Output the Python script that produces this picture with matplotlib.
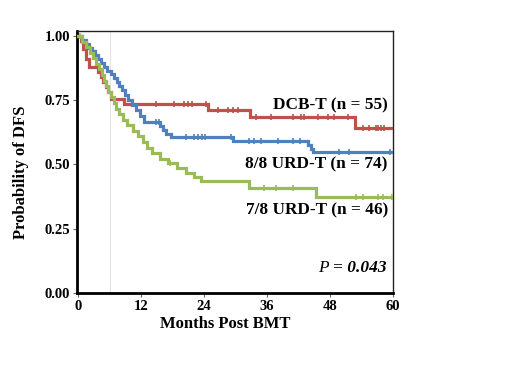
import numpy as np
import matplotlib
matplotlib.use("Agg")
import matplotlib.pyplot as plt

# ---- data ----
red_t = [0, 0.5, 1.0, 1.5, 2.0, 3.8, 4.3, 4.8, 5.3, 5.8, 6.3, 8.8, 24.7, 32.8, 52.8]
red_s = [1.0, 0.98, 0.95, 0.91, 0.88, 0.86, 0.84, 0.82, 0.80, 0.78, 0.755, 0.735, 0.712, 0.683, 0.643]
red_cens = [14.9, 18.3, 20.2, 21.0, 21.7, 24.4, 26.7, 28.5, 29.5, 30.5, 33.9, 36.8,
            41.0, 42.5, 43.0, 45.7, 47.6, 48.8, 51.4, 54.3, 55.5, 56.8, 57.2, 57.7, 58.3]

blue_t = [0, 0.8, 1.5, 2.0, 2.7, 3.2, 3.8, 4.4, 5.0, 5.5, 6.2, 6.8, 7.4, 7.8, 8.4, 9.0,
          9.6, 10.3, 11.0, 11.8, 12.6, 15.6, 16.2, 16.8, 17.8, 29.5, 43.8, 44.3, 44.8]
blue_s = [1.0, 0.985, 0.97, 0.955, 0.94, 0.925, 0.91, 0.895, 0.88, 0.865, 0.85, 0.835,
          0.82, 0.805, 0.79, 0.77, 0.75, 0.73, 0.71, 0.69, 0.665, 0.65, 0.635, 0.62,
          0.607, 0.59, 0.575, 0.56, 0.547]
blue_cens = [14.9, 15.4, 20.6, 22.1, 22.8, 23.6, 24.2, 29.1, 32.6, 33.5, 34.9, 38.0,
             41.0, 42.3, 49.7, 51.6, 59.5]

green_t = [0, 0.8, 1.5, 2.2, 2.8, 3.4, 4.0, 4.5, 5.0, 5.4, 5.8, 6.3, 6.8, 7.3, 7.8, 8.6,
           9.4, 10.5, 11.4, 12.4, 13.2, 14.0, 15.6, 17.1, 18.8, 20.6, 22.1, 23.4, 32.6, 45.3]
green_s = [1.0, 0.978, 0.957, 0.935, 0.913, 0.891, 0.870, 0.848, 0.826, 0.804, 0.783,
           0.761, 0.739, 0.717, 0.696, 0.674, 0.652, 0.63, 0.609, 0.587, 0.565, 0.543,
           0.522, 0.505, 0.487, 0.468, 0.452, 0.437, 0.41, 0.375]
green_cens = [0.4, 17.5, 35.4, 37.7, 41.0, 53.0, 54.3, 57.1, 58.1, 59.8]

labels = ["DCB-T (n = 55)", "8/8 URD-T (n = 74)", "7/8 URD-T (n = 46)"]
colors = ["#c0504d", "#4f81bd", "#9bbb59"]
x_ticks = [0, 12, 24, 36, 48, 60]
y_ticks = [0.0, 0.25, 0.50, 0.75, 1.00]
y_ticklabels = ["0.00", "0.25", "0.50", "0.75", "1.00"]
x_end = 60

plt.rcParams['font.family'] = ['Liberation Serif', 'DejaVu Serif']

fig = plt.figure(figsize=(5.2, 3.9), dpi=100)
ax = fig.add_axes([0.148, 0.249, 0.608, 0.672])

def step_val(t, s, x):
    i = np.searchsorted(t, x, side='right') - 1
    return s[i]

series = [(red_t, red_s, red_cens), (blue_t, blue_s, blue_cens), (green_t, green_s, green_cens)]
ax.axvline(6, color='#e4e4e4', lw=0.8, zorder=0)
for (t, s, c), col in zip(series, colors):
    tt = list(t) + [x_end]
    ss = list(s) + [s[-1]]
    ax.plot(tt, ss, drawstyle='steps-post', color=col, lw=2.3, zorder=3,
            solid_joinstyle='miter')
    cy = [step_val(np.array(t), np.array(s), x) for x in c]
    ax.plot(c, cy, linestyle='none', marker='|', markersize=5, mew=1.2, color=col, zorder=4)

ax.set_xlim(-0.2, 60)
ax.set_ylim(0, 1.02)
ax.set_xticks(x_ticks)
ax.set_yticks(y_ticks)
ax.set_yticklabels(y_ticklabels)
ax.tick_params(direction='out', length=3, width=0.8, color='#666666', labelsize=10.5, pad=2)
for lab in ax.get_xticklabels() + ax.get_yticklabels():
    lab.set_fontweight('bold')

for sp in ['left', 'bottom']:
    ax.spines[sp].set_linewidth(2.0)
    ax.spines[sp].set_color('black')
for sp in ['top', 'right']:
    ax.spines[sp].set_linewidth(1.0)
    ax.spines[sp].set_color('#222222')

ax.set_xlabel("Months Post BMT", fontsize=12, fontweight='bold')
ax.xaxis.set_label_coords(0.47, -0.09)
ax.set_ylabel("Probability of DFS", fontsize=12, fontweight='bold')
ax.yaxis.set_label_coords(-0.153, 0.46)

ax.text(59, 0.73, labels[0], ha='right', va='center', fontsize=12.4, fontweight='bold')
ax.text(59, 0.50, labels[1], ha='right', va='center', fontsize=12.4, fontweight='bold')
ax.text(59, 0.323, labels[2], ha='right', va='center', fontsize=12.4, fontweight='bold')
ax.text(58.7, 0.097, "= 0.043", ha='right', va='center', fontsize=12.5,
        fontweight='bold', fontstyle='italic')
ax.annotate("P ", xy=(0, 0.5), xycoords=ax.texts[-1], ha='right', va='center',
            fontsize=12.5, fontstyle='italic')

fig.savefig("out.png", dpi=100)
